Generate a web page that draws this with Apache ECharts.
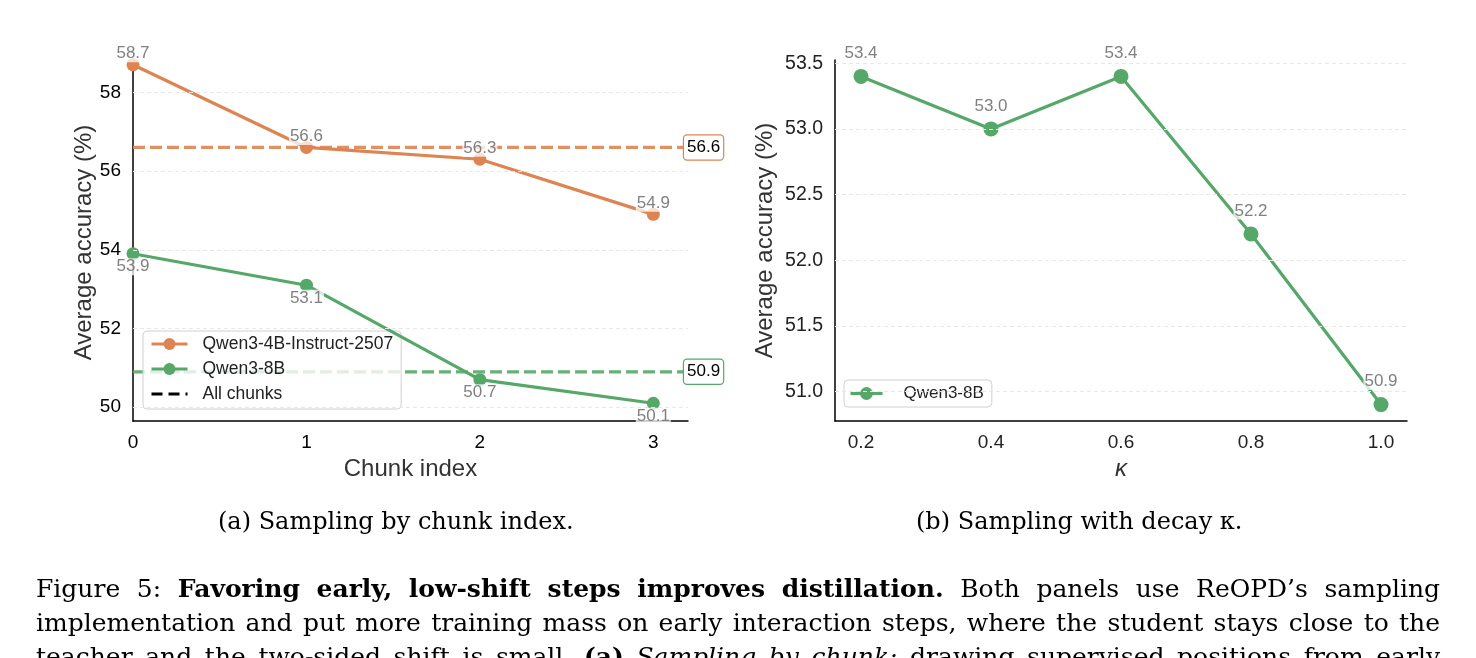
<!DOCTYPE html>
<html>
<head>
    <meta charset="utf-8">
    <title>Sampling ablations</title>
    <script src="https://cdn.jsdelivr.net/npm/echarts@6/dist/echarts.min.js"></script>
    <style>
        html, body { margin: 0; padding: 0; background: #fff; }
        #main { width: 1476px; height: 658px; }
    </style>
</head>
<body>
<div id="main"></div>
<script type="text/javascript">
    // panel (a): chunk index
    var chunkIdx = [0, 1, 2, 3];
    var qwen4bChunk = [58.7, 56.6, 56.3, 54.9];
    var qwen8bChunk = [53.9, 53.1, 50.7, 50.1];
    var allChunks4b = 56.6;
    var allChunks8b = 50.9;
    var yTicksA = [50, 52, 54, 56, 58];

    // panel (b): decay kappa
    var kappa = [0.2, 0.4, 0.6, 0.8, 1.0];
    var qwen8bKappa = [53.4, 53.0, 53.4, 52.2, 50.9];
    var yTicksB = [51.0, 51.5, 52.0, 52.5, 53.0, 53.5];

    // caption lines: [text, weight, style] runs
    var captionLines = [
        [['Figure 5:', 'normal', 'normal'],
         ['Favoring early, low-shift steps improves distillation.', 'bold', 'normal'],
         ['Both panels use ReOPD\u2019s sampling', 'normal', 'normal']],
        [['implementation and put more training mass on early interaction steps, where the student stays close to the', 'normal', 'normal']],
        [['teacher and the two-sided shift is small.', 'normal', 'normal'],
         ['(a)', 'bold', 'normal'],
         ['Sampling by chunk:', 'normal', 'italic'],
         ['drawing supervised positions from early', 'normal', 'normal']]
    ];

    var ORANGE = '#dd8452';
    var GREEN = '#55a868';
    var FONT = 'Liberation Sans';
    var SERIF = 'DejaVu Serif';

    function pairs(xs, ys) {
        return xs.map(function (x, i) { return [x, ys[i]]; });
    }

    var pointLabel = function (pos, off) {
        return {
            show: true, position: pos, offset: [0, off],
            color: '#808080', fontFamily: FONT, fontSize: 17,
            backgroundColor: 'rgba(255,255,255,0.75)', padding: [0, 1],
            formatter: function (p) { return p.value[1].toFixed(1); }
        };
    };

    var boxLabel = function (col) {
        return {
            show: true, distance: -4, color: '#000', fontSize: 17, fontFamily: FONT,
            backgroundColor: '#fff', borderColor: col, borderWidth: 1.2,
            borderRadius: 3, padding: [4, 3, 3, 3],
            formatter: function (p) { return p.value[1].toFixed(1); }
        };
    };

    function gridLines(ticks) {
        return {
            silent: true, symbol: 'none', label: { show: false },
            lineStyle: { color: '#e8e8e8', type: [4, 3], width: 1 },
            data: ticks.map(function (t) { return { yAxis: t }; })
        };
    }

    // justified caption text, one text element per word
    var ctx = document.createElement('canvas').getContext('2d');
    function justify(runs, top, x0, x1, size) {
        var words = [];
        runs.forEach(function (r) {
            r[0].split(' ').forEach(function (w) {
                var font = r[2] + ' ' + r[1] + ' ' + size + 'px "' + SERIF + '"';
                ctx.font = font;
                words.push({ t: w, font: font, w: ctx.measureText(w).width });
            });
        });
        var total = words.reduce(function (s, w) { return s + w.w; }, 0);
        var gap = (x1 - x0 - total) / (words.length - 1);
        var x = x0, out = [];
        words.forEach(function (w) {
            out.push({ type: 'text', x: x, y: top, silent: true,
                style: { text: w.t, font: w.font, fill: '#000' } });
            x += w.w + gap;
        });
        return out;
    }

    var graphics = [
        { type: 'text', left: 218, top: 511,
          style: { text: '(a) Sampling by chunk index.', font: '24px "' + SERIF + '"', fill: '#000' } },
        { type: 'text', left: 916, top: 511,
          style: { text: '(b) Sampling with decay κ.', font: '24px "' + SERIF + '"', fill: '#000' } }
    ];
    captionLines.forEach(function (line, i) {
        graphics = graphics.concat(justify(line, 578 + i * 34, 36, 1440, 25));
    });

    var myChart = echarts.init(document.getElementById('main'));

    var option = {
        animation: false,
        textStyle: { fontFamily: FONT },
        grid: [
            { left: 133, top: 64, width: 555, height: 357 },
            { left: 835, top: 60, width: 572, height: 361 }
        ],
        xAxis: [{
            gridIndex: 0, type: 'value', min: 0, max: 3.2,
            name: 'Chunk index', nameLocation: 'middle', nameGap: 35,
            nameTextStyle: { fontSize: 24, color: '#333', fontFamily: FONT },
            axisLine: { lineStyle: { color: '#000', width: 1.5 } },
            axisTick: { show: false, customValues: chunkIdx },
            axisLabel: { customValues: chunkIdx, color: '#000', fontSize: 19, margin: 12 },
            splitLine: { show: false }
        }, {
            gridIndex: 1, type: 'value', min: 0.16, max: 1.04,
            name: 'κ', nameLocation: 'middle', nameGap: 35,
            nameTextStyle: { fontSize: 24, color: '#333', fontStyle: 'italic', fontFamily: FONT },
            axisLine: { lineStyle: { color: '#000', width: 1.5 } },
            axisTick: { show: false, customValues: kappa },
            axisLabel: { customValues: kappa, color: '#222', fontSize: 19, margin: 12,
                formatter: function (v) { return v.toFixed(1); } },
            splitLine: { show: false }
        }],
        yAxis: [{
            gridIndex: 0, type: 'value', min: 49.65, max: 58.72,
            name: 'Average accuracy (%)', nameLocation: 'middle', nameGap: 36,
            nameTextStyle: { fontSize: 24, color: '#333', fontFamily: FONT },
            axisLine: { show: true, lineStyle: { color: '#000', width: 1.5 } },
            axisTick: { show: false, customValues: yTicksA },
            axisLabel: { customValues: yTicksA, color: '#000', fontSize: 19, margin: 12 },
            splitLine: { show: false }
        }, {
            gridIndex: 1, type: 'value', min: 50.775, max: 53.525,
            name: 'Average accuracy (%)', nameLocation: 'middle', nameGap: 58,
            nameTextStyle: { fontSize: 24, color: '#333', fontFamily: FONT },
            axisLine: { show: true, lineStyle: { color: '#000', width: 1.5 } },
            axisTick: { show: false, customValues: yTicksB },
            axisLabel: { customValues: yTicksB, color: '#222', fontSize: 19.5, margin: 12,
                formatter: function (v) { return v.toFixed(1); } },
            splitLine: { show: false }
        }],
        legend: [{
            left: 143, top: 331, orient: 'vertical',
            data: ['Qwen3-4B-Instruct-2507', 'Qwen3-8B', 'All chunks'],
            itemWidth: 36, itemHeight: 15, itemGap: 7,
            padding: [4, 8, 6, 7],
            lineStyle: { width: 3 },
            backgroundColor: 'rgba(255,255,255,0.8)',
            borderColor: '#d0d0d0', borderWidth: 1, borderRadius: 4,
            textStyle: { fontSize: 17.5, color: '#222', fontFamily: FONT, padding: [0, 0, 0, 10] }
        }, {
            left: 844, top: 380, orient: 'vertical',
            data: ['Qwen3-8B (κ)'],
            formatter: function () { return 'Qwen3-8B'; },
            itemWidth: 32, itemHeight: 16,
            padding: [5, 8, 5, 5],
            lineStyle: { width: 3 },
            backgroundColor: 'rgba(255,255,255,0.8)',
            borderColor: '#d0d0d0', borderWidth: 1, borderRadius: 4,
            textStyle: { fontSize: 17, color: '#222', fontFamily: FONT, padding: [0, 0, 0, 16] }
        }],
        series: [{
            name: 'grid-a', type: 'line', xAxisIndex: 0, yAxisIndex: 0,
            data: [], markLine: gridLines(yTicksA), z: 1
        }, {
            name: 'grid-b', type: 'line', xAxisIndex: 1, yAxisIndex: 1,
            data: [], markLine: gridLines(yTicksB), z: 1
        }, {
            name: 'Qwen3-4B-Instruct-2507', type: 'line', xAxisIndex: 0, yAxisIndex: 0,
            data: pairs(chunkIdx, qwen4bChunk),
            symbol: 'circle', symbolSize: 13,
            lineStyle: { color: ORANGE, width: 3.2 },
            itemStyle: { color: ORANGE },
            label: pointLabel('top', 9), z: 4
        }, {
            name: 'Qwen3-8B', type: 'line', xAxisIndex: 0, yAxisIndex: 0,
            data: pairs(chunkIdx, qwen8bChunk),
            symbol: 'circle', symbolSize: 13,
            lineStyle: { color: GREEN, width: 3.2 },
            itemStyle: { color: GREEN },
            label: pointLabel('bottom', -7), z: 4
        }, {
            name: 'Qwen3-4B-Instruct-2507', type: 'line', xAxisIndex: 0, yAxisIndex: 0,
            data: [[0, allChunks4b], [3.2, allChunks4b]],
            symbol: 'none',
            lineStyle: { color: ORANGE, width: 3.2, type: [12, 5], opacity: 0.9 },
            itemStyle: { color: ORANGE },
            endLabel: boxLabel(ORANGE), z: 3
        }, {
            name: 'Qwen3-8B', type: 'line', xAxisIndex: 0, yAxisIndex: 0,
            data: [[0, allChunks8b], [3.2, allChunks8b]],
            symbol: 'none',
            lineStyle: { color: GREEN, width: 3.2, type: [12, 5], opacity: 0.9 },
            itemStyle: { color: GREEN },
            endLabel: boxLabel(GREEN), z: 3
        }, {
            name: 'All chunks', type: 'line', xAxisIndex: 0, yAxisIndex: 0,
            data: [], symbol: 'none',
            lineStyle: { color: '#000', width: 3.2, type: [11, 6] },
            itemStyle: { color: 'rgba(0,0,0,0)', borderWidth: 0 }
        }, {
            name: 'Qwen3-8B (κ)', type: 'line', xAxisIndex: 1, yAxisIndex: 1,
            data: pairs(kappa, qwen8bKappa),
            symbol: 'circle', symbolSize: 15,
            lineStyle: { color: GREEN, width: 3.2 },
            itemStyle: { color: GREEN },
            label: pointLabel('top', -2), z: 4
        }],
        graphic: graphics
    };

    myChart.setOption(option);
</script>
</body>
</html>
